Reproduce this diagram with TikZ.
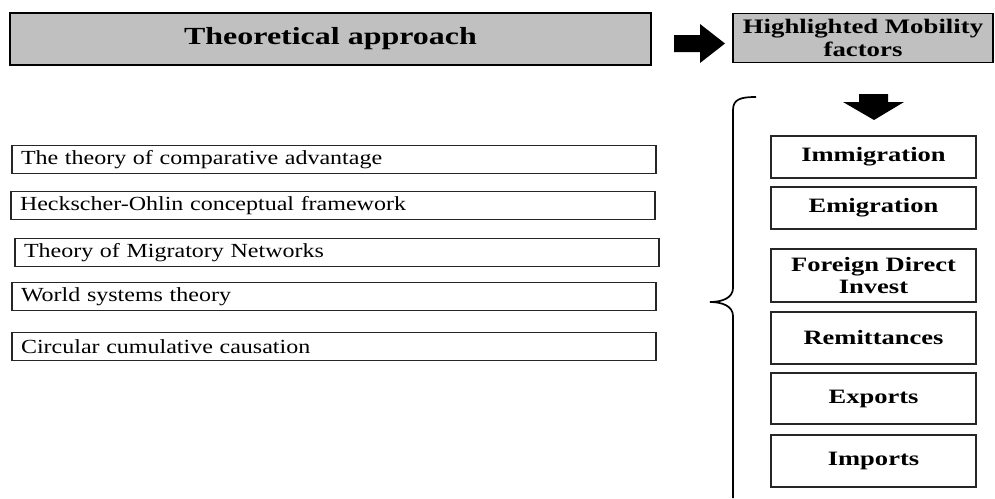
\documentclass[tikz,border=0pt]{standalone}
\usepackage{fontspec}
\newfontfamily\regf[FakeStretch=1.2]{Liberation Serif}
\newfontfamily\boldf[FakeStretch=1.3]{Liberation Serif}
\definecolor{headgray}{HTML}{C0C0C0}
\begin{document}
\begin{tikzpicture}[x=1pt,y=-1pt,
  headbox/.style={draw=black, line width=1.3pt, fill=headgray, inner sep=0pt, align=center},
  theorybox/.style={draw=black!85, line width=1.1pt, inner xsep=9pt, inner ysep=0pt,
     minimum width=644pt, minimum height=28.5pt, text width=626pt, align=left,
     font=\regf\fontsize{20}{24}\selectfont},
  factorbox/.style={draw=black!85, line width=1.1pt, inner sep=0pt, minimum width=205pt,
     align=center, font=\boldf\bfseries\fontsize{20.4}{22}\selectfont},
  blockarrow/.style={fill=black, draw=none}
]
\useasboundingbox (0,0) rectangle (995,498);

% headers
\node[headbox, minimum width=641pt, minimum height=52pt,
      font=\boldf\bfseries\fontsize{24.6}{28}\selectfont] (title) at (330.5,39) {Theoretical approach};
\node[headbox, minimum width=260pt, minimum height=49pt,
      font=\boldf\bfseries\fontsize{20.6}{23.5}\selectfont] (high) at (863,38) {Highlighted Mobility\\factors};

% block arrows
\fill[blockarrow] (674,35) -- (700,35) -- (700,24) -- (725,43.5) -- (700,63) -- (700,52) -- (674,52) -- cycle;
\fill[blockarrow] (859,94) -- (888,94) -- (888,102) -- (904,102) -- (874,120) -- (843,102) -- (859,102) -- cycle;

% theories
\node[theorybox] (t1) at (334,159.5) {The theory of comparative advantage};
\node[theorybox] (t2) at (333,205.5) {Heckscher-Ohlin conceptual framework};
\node[theorybox] (t3) at (337,252.5) {Theory of Migratory Networks};
\node[theorybox] (t4) at (334,296.5) {World systems theory};
\node[theorybox] (t5) at (334,346.5) {Circular cumulative causation};

% factors
\node[factorbox, minimum height=42pt] (f1) at (873.5,157) {Immigration};
\node[factorbox, minimum height=42pt] (f2) at (873.5,208) {Emigration};
\node[factorbox, minimum height=53pt] (f3) at (873.5,275.5) {Foreign Direct\\Invest};
\node[factorbox, minimum height=52pt] (f4) at (873.5,338) {Remittances};
\node[factorbox, minimum height=51pt] (f5) at (873.5,398.5) {Exports};
\node[factorbox, minimum height=52pt] (f6) at (873.5,461) {Imports};

% brace
\coordinate (btop) at (756,97);
\coordinate (btip) at (710,302);
\coordinate (bbot) at (733,498);
\draw[line width=1.7pt] (btop) .. controls (741,97) and (733,99) .. (733,110)
  -- (733,288) .. controls (733,298) and (722,302) .. (btip)
  .. controls (722,302) and (733,306) .. (733,316) -- (bbot);
\end{tikzpicture}
\end{document}
